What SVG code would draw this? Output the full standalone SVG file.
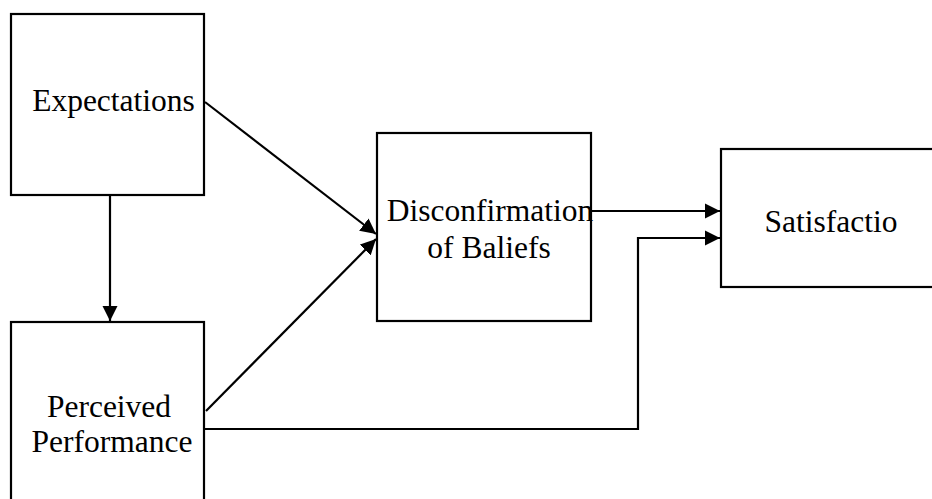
<svg xmlns="http://www.w3.org/2000/svg" width="932" height="499" viewBox="0 0 932 499">
  <style>
    .box { fill: #ffffff; stroke: #000000; stroke-width: 2.2; }
    .lbl { font-family: "Liberation Serif", "Times New Roman", serif; font-size: 31.5px; fill: #000000; text-anchor: middle; }
    .edge { fill: none; stroke: #000000; stroke-width: 2.2; }
  </style>
  <defs>
    <marker id="arrow" viewBox="0 0 10 10" refX="10" refY="5" markerWidth="7" markerHeight="7" markerUnits="strokeWidth" orient="auto">
      <path d="M0,0 L10,5 L0,10 Z" fill="#000000"/>
    </marker>
  </defs>

  <rect width="932" height="499" fill="#ffffff"/>

  <g id="expectations">
    <rect class="box" x="11" y="14" width="193" height="181"/>
    <text class="lbl" x="113.5" y="111">Expectations</text>
  </g>

  <g id="perceived-performance">
    <rect class="box" x="11" y="322" width="193" height="190"/>
    <text class="lbl" x="109" y="417">Perceived</text>
    <text class="lbl" x="112" y="452">Performance</text>
  </g>

  <g id="disconfirmation">
    <rect class="box" x="377" y="133" width="214" height="188"/>
    <text class="lbl" x="490" y="221">Disconfirmation</text>
    <text class="lbl" x="489" y="258">of Baliefs</text>
  </g>

  <g id="satisfaction">
    <rect class="box" x="721" y="149" width="230" height="138"/>
    <text class="lbl" x="831" y="232">Satisfactio</text>
  </g>

  <g id="connectors">
    <line class="edge" x1="110" y1="195" x2="110" y2="321" marker-end="url(#arrow)"/>
    <line class="edge" x1="205" y1="102" x2="376" y2="234" marker-end="url(#arrow)"/>
    <line class="edge" x1="206" y1="411" x2="376" y2="239" marker-end="url(#arrow)"/>
    <line class="edge" x1="591" y1="211" x2="720" y2="211" marker-end="url(#arrow)"/>
    <polyline class="edge" points="204,429 638,429 638,238 720,238" marker-end="url(#arrow)"/>
  </g>
</svg>
